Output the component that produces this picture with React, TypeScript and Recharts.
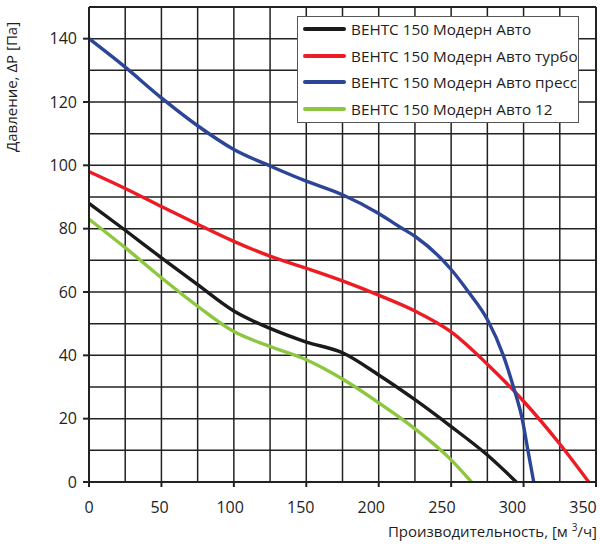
import { LineChart, Line, XAxis, YAxis, CartesianGrid, Legend, ReferenceLine } from 'recharts'

// axis ticks: grid every 25 / 10, labels every 50 / 20
const X_TICKS = [0, 25, 50, 75, 100, 125, 150, 175, 200, 225, 250, 275, 300, 325, 350]
const X_LABELS = [0, 50, 100, 150, 200, 250, 300, 350]
const Y_TICKS = [0, 10, 20, 30, 40, 50, 60, 70, 80, 90, 100, 110, 120, 130, 140, 150]
const Y_LABELS = [0, 20, 40, 60, 80, 100, 120, 140]

// ВЕНТС 150 Модерн Авто
const AVTO_X = [0, 25, 50, 75, 100, 125, 150, 175, 200, 225, 250, 275, 295]
const AVTO_Y = [88, 79.5, 70.8, 62.3, 54, 48.5, 44.2, 40.8, 33.8, 26, 17.5, 8.5, 0]

// ... турбо
const TURBO_X = [0, 25, 50, 75, 100, 125, 150, 175, 200, 225, 250, 275, 300, 325, 345]
const TURBO_Y = [98, 92.7, 87, 81.4, 76, 71.3, 67.5, 63.5, 59, 54, 47.4, 37.2, 25.5, 12, 0]

// ... пресс
const PRESS_X = [0, 25, 50, 75, 100, 125, 150, 175, 200, 215, 225, 250, 262, 275, 286, 293, 299, 303, 307]
const PRESS_Y = [140, 131, 121.3, 112.5, 105, 99.8, 95, 90.7, 84.8, 80.4, 77.6, 67.1, 60, 51.3, 40, 30, 20, 10, 0]

// ... 12
const V12_X = [0, 25, 50, 75, 100, 125, 150, 175, 200, 225, 250, 264]
const V12_Y = [83, 74, 64.5, 55.5, 47.5, 42.8, 38.6, 32.5, 25, 16.8, 7, 0]

const toPoints = (xs: number[], ys: number[]) => xs.map((x, i) => ({ x, y: ys[i] }))

const SERIES = [
  { name: 'ВЕНТС 150 Модерн Авто', color: '#1a1a1a', data: toPoints(AVTO_X, AVTO_Y) },
  { name: 'ВЕНТС 150 Модерн Авто турбо', color: '#ed1c24', data: toPoints(TURBO_X, TURBO_Y) },
  { name: 'ВЕНТС 150 Модерн Авто пресс', color: '#2c4597', data: toPoints(PRESS_X, PRESS_Y) },
  { name: 'ВЕНТС 150 Модерн Авто 12', color: '#8dc63f', data: toPoints(V12_X, V12_Y) },
]

const FONT = "'Open Sans', sans-serif"
const INK = '#1e1e1e'
const GRID = '#222'
const TICK_SIZE = 6
const TICK_MARGIN = 4

function XTick(props: any) {
  const { x, y, payload } = props
  const v = payload.value
  if (!X_LABELS.includes(v)) return <g />
  const axisY = y - TICK_SIZE - TICK_MARGIN
  return (
    <g>
      <line x1={x} x2={x} y1={axisY} y2={axisY + 5} stroke={GRID} strokeWidth={2} />
      <text x={x - (v / 350) * 13} y={axisY + 31} textAnchor="middle" fill={INK} fontSize={16} fontFamily={FONT}>
        {v}
      </text>
    </g>
  )
}

function YTick(props: any) {
  const { x, y, payload } = props
  const v = payload.value
  if (!Y_LABELS.includes(v)) return <g />
  const axisX = x + TICK_SIZE + TICK_MARGIN
  return (
    <g>
      <line x1={axisX - 6} x2={axisX} y1={y} y2={y} stroke={GRID} strokeWidth={2} />
      <text x={axisX - 12} y={y} dy="0.36em" textAnchor="end" fill={INK} fontSize={16} fontFamily={FONT}>
        {v}
      </text>
    </g>
  )
}

function YTitle(props: any) {
  const vb = props.viewBox
  const cx = vb.x + 17
  const cy = vb.y + 80
  return (
    <text x={cx} y={cy} transform={`rotate(-90 ${cx} ${cy})`} textAnchor="middle" fill={INK} fontSize={15} fontFamily={FONT}>
      Давление, ΔP [Па]
    </text>
  )
}

function XTitle(props: any) {
  const vb = props.viewBox
  return (
    <text x={vb.x + vb.width + 1} y={vb.y + 55} textAnchor="end" fill={INK} fontSize={15} fontFamily={FONT}>
      Производительность, [м <tspan dy={-6} fontSize={10}>3</tspan>
      <tspan dy={6}>/ч]</tspan>
    </text>
  )
}

function LegendBox() {
  return (
    <div
      style={{
        width: 280,
        height: 105,
        border: '1px solid #555',
        background: '#fff',
        fontFamily: FONT,
        fontSize: 15.3,
        color: INK,
        boxSizing: 'content-box',
      }}
    >
      {SERIES.map((s) => (
        <div key={s.name} style={{ display: 'flex', alignItems: 'center', height: 26.5, marginTop: s === SERIES[0] ? -1 : 0 }}>
          <span style={{ display: 'inline-block', width: 43, height: 3.6, background: s.color, marginLeft: 5, marginRight: 5, borderRadius: 2 }} />
          <span style={{ whiteSpace: 'nowrap' }}>{s.name}</span>
        </div>
      ))}
    </div>
  )
}

export default function App() {
  return (
    <div style={{ position: 'absolute', left: 0, top: 0, background: '#fff' }}>
      <LineChart width={600} height={547} margin={{ top: 7, right: 4, bottom: 0, left: 0 }}>
        <CartesianGrid stroke={GRID} strokeWidth={1.5} />
        <XAxis
          dataKey="x"
          type="number"
          domain={[0, 350]}
          ticks={X_TICKS}
          interval={0}
          height={65}
          tickSize={TICK_SIZE}
          tickMargin={TICK_MARGIN}
          tickLine={false}
          axisLine={{ stroke: GRID, strokeWidth: 2 }}
          tick={<XTick />}
          label={<XTitle />}
        />
        <YAxis
          type="number"
          domain={[0, 150]}
          ticks={Y_TICKS}
          interval={0}
          width={89}
          tickSize={TICK_SIZE}
          tickMargin={TICK_MARGIN}
          tickLine={false}
          axisLine={{ stroke: GRID, strokeWidth: 2 }}
          tick={<YTick />}
          label={<YTitle />}
        />
        <ReferenceLine y={150} stroke={GRID} strokeWidth={2} />
        <ReferenceLine x={350} stroke={GRID} strokeWidth={2} />
        {SERIES.map((s) => (
          <Line
            key={s.name}
            data={s.data}
            dataKey="y"
            name={s.name}
            type="monotone"
            stroke={s.color}
            strokeWidth={3.4}
            dot={false}
            activeDot={false}
            isAnimationActive={false}
          />
        ))}
        <Legend
          verticalAlign="middle"
          align="center"
          content={() => <LegendBox />}
          wrapperStyle={{ position: 'absolute', left: 297, top: 16, width: 282, height: 107 }}
        />
      </LineChart>
    </div>
  )
}
